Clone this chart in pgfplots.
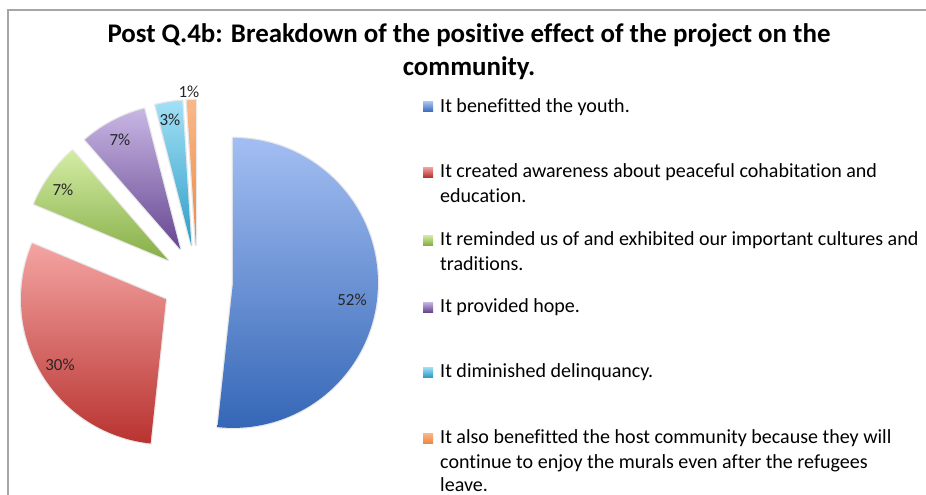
\documentclass[border=0pt]{standalone}
\usepackage{pgfplots}
\pgfplotsset{compat=1.18}
\usepackage{pgfplotstable}
\usepackage{fontspec}
\setmainfont[Ligatures={NoCommon}]{Carlito}

\definecolor{topc0}{HTML}{A3BEF2}\definecolor{botc0}{HTML}{3466B6}
\definecolor{topc1}{HTML}{F4A4A2}\definecolor{botc1}{HTML}{B83330}
\definecolor{topc2}{HTML}{D3EDA4}\definecolor{botc2}{HTML}{87AE48}
\definecolor{topc3}{HTML}{C8B6E4}\definecolor{botc3}{HTML}{664791}
\definecolor{topc4}{HTML}{A2E0F6}\definecolor{botc4}{HTML}{2E9DC6}
\definecolor{topc5}{HTML}{F9B88A}\definecolor{botc5}{HTML}{EC8A45}
\definecolor{framegray}{HTML}{A6A6A6}

\newcommand\legfont{\fontsize{20.1}{25}\selectfont}
\newcommand\titfont{\bfseries\fontsize{27}{33}\selectfont}

\begin{document}
\begin{tikzpicture}
\pgfplotstableread{
value label lx ly
51.7 52 352 300
29.6 30 60 365
7.3 7 63 190
7.4 7 120 140
3.0 3 170 120
1.0 1 189 92
}\piedata
\xdef\curang{90}
\foreach \i in {0,...,5}{%
  \pgfplotstablegetelem{\i}{value}\of\piedata
  \pgfmathsetmacro\sweep{\pgfplotsretval*3.6}%
  \pgfmathsetmacro\endang{\curang-\sweep}%
  \pgfmathsetmacro\midang{(\curang+\endang)/2}%
  \pgfmathsetmacro\vx{197+36*cos(\midang)}%
  \pgfmathsetmacro\vy{281-36*sin(\midang)}%
  \pgfmathsetmacro\px{\vx+145*cos(\curang)}%
  \pgfmathsetmacro\py{\vy-145*sin(\curang)}%
  \expandafter\xdef\csname sa\i\endcsname{\curang}%
  \expandafter\xdef\csname ea\i\endcsname{\endang}%
  \expandafter\xdef\csname vx\i\endcsname{\vx}%
  \expandafter\xdef\csname vy\i\endcsname{\vy}%
  \expandafter\xdef\csname px\i\endcsname{\px}%
  \expandafter\xdef\csname py\i\endcsname{\py}%
  \pgfplotstablegetelem{\i}{label}\of\piedata
  \expandafter\xdef\csname lb\i\endcsname{\pgfplotsretval}%
  \pgfplotstablegetelem{\i}{lx}\of\piedata
  \expandafter\xdef\csname lx\i\endcsname{\pgfplotsretval}%
  \pgfplotstablegetelem{\i}{ly}\of\piedata
  \expandafter\xdef\csname ly\i\endcsname{\pgfplotsretval}%
  \xdef\curang{\endang}%
}
\begin{axis}[at={(0,0)}, anchor=south west, width=926bp, height=495bp, scale only axis,
  xmin=0, xmax=926, ymin=0, ymax=495, y dir=reverse, hide axis, clip=false, enlargelimits=false]
\draw[color=framegray, line width=1.5bp] (axis cs:8,500) -- (axis cs:8,10) -- (axis cs:930,10);
\pgfplotsinvokeforeach{0,...,5}{
  \path[draw=black!9, line width=2.5bp, line join=round] (axis cs:\csname vx#1\endcsname,\csname vy#1\endcsname) -- (axis cs:\csname px#1\endcsname,\csname py#1\endcsname) arc[start angle=\csname sa#1\endcsname, end angle=\csname ea#1\endcsname, radius=145bp] -- cycle;
  \path[top color=topc#1, bottom color=botc#1, draw=none] (axis cs:\csname vx#1\endcsname,\csname vy#1\endcsname) -- (axis cs:\csname px#1\endcsname,\csname py#1\endcsname) arc[start angle=\csname sa#1\endcsname, end angle=\csname ea#1\endcsname, radius=145bp] -- cycle;
  \node[font=\fontsize{17}{20}\selectfont, text=black!85, inner sep=0] at (axis cs:\csname lx#1\endcsname,\csname ly#1\endcsname) {\csname lb#1\endcsname\%};
}
% title
\node[anchor=base, inner sep=0, font=\titfont] at (axis cs:469,43) {Post Q.4b: Breakdown of the positive effect of the project on the};
\node[anchor=base, inner sep=0, font=\titfont] at (axis cs:469,76) {community.};
% legend
\newcommand\legsq[2]{\path[top color=topc#1, bottom color=botc#1] (axis cs:423,#2-5) rectangle (axis cs:433,#2+5);}
\legsq{0}{107}\legsq{1}{172}\legsq{2}{240}\legsq{3}{307}\legsq{4}{372}\legsq{5}{438}
\node[anchor=base west, inner sep=0, font=\legfont] at (axis cs:440,112) {It benefitted the youth.};
\node[anchor=base west, inner sep=0, font=\legfont] at (axis cs:440,177) {It created awareness about peaceful cohabitation and};
\node[anchor=base west, inner sep=0, font=\legfont] at (axis cs:440,202) {education.};
\node[anchor=base west, inner sep=0, font=\legfont] at (axis cs:440,245) {It reminded us of and exhibited our important cultures and};
\node[anchor=base west, inner sep=0, font=\legfont] at (axis cs:440,270) {traditions.};
\node[anchor=base west, inner sep=0, font=\legfont] at (axis cs:440,312) {It provided hope.};
\node[anchor=base west, inner sep=0, font=\legfont] at (axis cs:440,377) {It diminished delinquancy.};
\node[anchor=base west, inner sep=0, font=\legfont] at (axis cs:440,443) {It also benefitted the host community because they will};
\node[anchor=base west, inner sep=0, font=\legfont] at (axis cs:440,468) {continue to enjoy the murals even after the refugees};
\node[anchor=base west, inner sep=0, font=\legfont] at (axis cs:440,491) {leave.};
\end{axis}
\pgfresetboundingbox
\path (0,0) rectangle (926bp,495bp);
\end{tikzpicture}
\end{document}
